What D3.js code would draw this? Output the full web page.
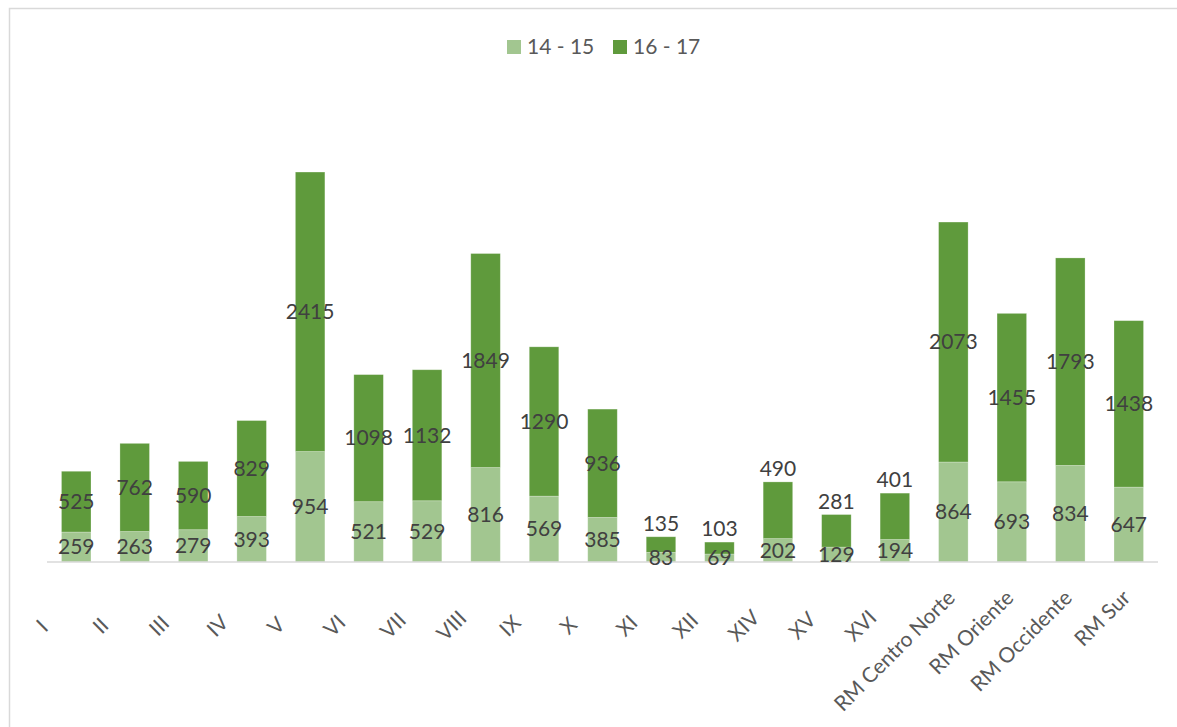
<!DOCTYPE html>
<html>
<head>
<meta charset="utf-8">
<script src="https://cdn.jsdelivr.net/npm/d3@7"></script>
<style>
  body { margin: 0; background: #fff; }
  svg { display: block; font-family: Lato, "Open Sans", sans-serif; }
</style>
</head>
<body>
<div id="chart"></div>
<script>
// categories (regions) and the two age groups
var categories = ["I", "II", "III", "IV", "V", "VI", "VII", "VIII", "IX", "X", "XI", "XII", "XIV", "XV", "XVI",
    "RM Centro Norte", "RM Oriente", "RM Occidente", "RM Sur"];
var age1415 = [259, 263, 279, 393, 954, 521, 529, 816, 569, 385, 83, 69, 202, 129, 194, 864, 693, 834, 647];
var age1617 = [525, 762, 590, 829, 2415, 1098, 1132, 1849, 1290, 936, 135, 103, 490, 281, 401, 2073, 1455, 1793, 1438];
var seriesNames = ["14 - 15", "16 - 17"];

var width = 1177, height = 727;
var colors = ["#a2c690", "#5f9a3c"];

var data = categories.map((c, i) => ({ name: c, "14 - 15": age1415[i], "16 - 17": age1617[i] }));
var stacked = d3.stack().keys(seriesNames)(data);

var x = d3.scaleBand()
    .domain(categories)
    .range([47, 1158])
    .paddingInner(0.495)
    .paddingOuter(0.2475);

var y = d3.scaleLinear()
    .domain([0, 4000])
    .range([562, 99]);

var svg = d3.select("#chart").append("svg")
    .attr("width", width)
    .attr("height", height);

// chart border
svg.append("rect")
    .attr("x", 9.5).attr("y", 8.5)
    .attr("width", 1185).attr("height", 740)
    .attr("fill", "none")
    .attr("stroke", "#d9d9d9")
    .attr("stroke-width", 1.5);

// bars
var layer = svg.append("g")
    .selectAll("g")
    .data(stacked)
    .join("g")
    .attr("fill", (d, i) => colors[i]);

layer.selectAll("rect")
    .data(d => d)
    .join("rect")
    .attr("x", d => x(d.data.name))
    .attr("width", x.bandwidth())
    .attr("y", d => y(d[1]))
    .attr("height", d => y(d[0]) - y(d[1]))
    .attr("stroke", "#ffffff")
    .attr("stroke-opacity", 0.35)
    .attr("stroke-width", 0.75);

// baseline
svg.append("line")
    .attr("x1", x.range()[0]).attr("x2", x.range()[1])
    .attr("y1", y(0)).attr("y2", y(0))
    .attr("stroke", "#d9d9d9")
    .attr("stroke-width", 1.5);

// data labels
stacked.forEach((s, si) => {
    svg.append("g")
        .attr("text-anchor", "middle")
        .attr("font-size", 21)
        .attr("fill", "#404040")
        .selectAll("text")
        .data(s)
        .join("text")
        .attr("x", d => x(d.data.name) + x.bandwidth() / 2)
        .attr("y", d => {
            var v = d[1] - d[0];
            // small top segments get their label just above the bar
            if (si == 1 && v < 500) return y(d[1]) - 13;
            return (y(d[0]) + y(d[1])) / 2;
        })
        .attr("dy", "0.35em")
        .text(d => d[1] - d[0]);
});

// category labels, rotated -45
var xl = svg.append("g")
    .attr("font-size", 21)
    .attr("fill", "#595959")
    .attr("text-anchor", "middle")
    .selectAll("text")
    .data(categories)
    .join("text")
    .attr("dominant-baseline", "central")
    .text(d => d);

xl.each(function(d) {
    var L = this.getComputedTextLength();
    var px = x(d) + x.bandwidth() / 2 + 4, py = 586;
    var dist = L < 45 ? 55 : L / 2 + 10;
    var cx = px - dist * Math.SQRT1_2, cy = py + dist * Math.SQRT1_2;
    d3.select(this).attr("transform", `translate(${cx},${cy}) rotate(-45)`);
});

// legend
var legend = svg.append("g")
    .attr("font-size", 21)
    .attr("fill", "#595959");
var lx = [507, 613];
seriesNames.forEach((n, i) => {
    legend.append("rect")
        .attr("x", lx[i]).attr("y", 40)
        .attr("width", 14).attr("height", 14)
        .attr("fill", colors[i]);
    legend.append("text")
        .attr("x", lx[i] + 20).attr("y", 47)
        .attr("dy", "0.35em")
        .text(n);
});
</script>
</body>
</html>
